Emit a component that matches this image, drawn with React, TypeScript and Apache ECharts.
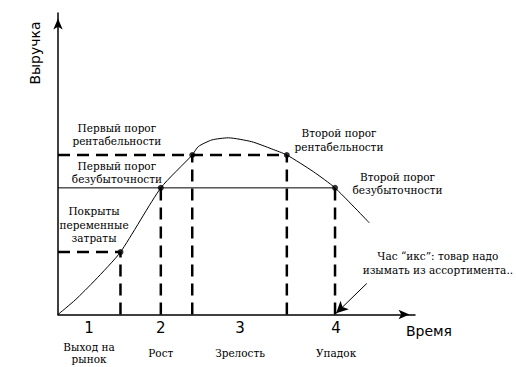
import React, { useEffect, useRef } from 'react';
import * as echarts from 'echarts';

// Revenue curve over time (axis units 0..100)
const curveX = [0, 4.8, 10.4, 17.5, 28.8, 37.6, 39.3, 43.1, 47.7, 54.3, 59.9, 64.1, 71.5, 77.6, 87.2];
const curveY = [0, 4.8, 11.4, 20.7, 42.0, 52.9, 55.7, 57.9, 58.6, 57.3, 54.9, 52.9, 47.4, 42.0, 30.4];

// Key points on the curve
const varCost = [17.5, 20.7];
const breakeven1 = [28.8, 42.0];
const profit1 = [37.6, 52.9];
const profit2 = [64.1, 52.9];
const breakeven2 = [77.6, 42.0];

// Stages along the time axis
const stageX = [8.7, 28.8, 51.0, 77.9];
const stageNums = ['1', '2', '3', '4'];
const stageNames = ['Выход на\nрынок', 'Рост', 'Зрелость', 'Упадок'];

// Annotations
const noteTexts = [
  'Первый порог\nрентабельности',
  'Первый порог\nбезубыточности',
  'Покрыты\nпеременные\nзатраты',
  'Второй порог\nрентабельности',
  'Второй порог\nбезубыточности',
  'Час “икс”: товар надо\nизымать из ассортимента..',
];
const noteX = [16.5, 16.5, 10.1, 78.7, 95.1, 106.4];
const noteY = [59.7, 47.1, 29.7, 57.9, 43.5, 17.1];
const arrowFrom = [86.5, 10.3];
const arrowTo = [77.9, 0.4];

const yName = 'Выручка';
const xName = 'Время';

const SERIF = '"DejaVu Serif", "Liberation Serif", serif';
const SANS = '"DejaVu Sans", sans-serif';

const dashed = { color: '#000', width: 2.5, type: [12, 7] as number[] };
const solid = { color: '#000', width: 1, type: 'solid' as const };

function seg(a: number[], b: number[], style: any) {
  return {
    type: 'line',
    data: [a, b],
    symbol: 'none',
    silent: true,
    lineStyle: style,
    z: 2,
  };
}

export default function App() {
  const ref = useRef<HTMLDivElement>(null);
  useEffect(() => {
    if (!ref.current) return;
    const chart = echarts.init(ref.current, null, { renderer: 'svg' });
    const axisCommon = {
      type: 'value',
      min: 0,
      max: 100,
      splitLine: { show: false },
      axisTick: { show: false },
      axisLabel: { show: false },
      axisLine: {
        show: true,
        symbol: ['none', 'arrow'],
        symbolSize: [7, 11],
        symbolOffset: [0, -5.5],
        lineStyle: { color: '#000', width: 1.5 },
      },
    };
    chart.setOption({
      animation: false,
      backgroundColor: '#fff',
      grid: { left: 58, right: 101, top: 13, bottom: 52.5, containLabel: false },
      xAxis: { ...axisCommon },
      yAxis: { ...axisCommon },
      series: [
        seg([0, profit1[1]], profit2, dashed),
        seg([0, breakeven1[1]], breakeven2, solid),
        seg([0, varCost[1]], varCost, dashed),
        seg([varCost[0], 0], varCost, dashed),
        seg([breakeven1[0], 0], breakeven1, dashed),
        seg([profit1[0], 0], profit1, dashed),
        seg([profit2[0], 0], profit2, dashed),
        seg([breakeven2[0], 0], breakeven2, dashed),
        {
          type: 'line',
          data: curveX.map((x, i) => [x, curveY[i]]),
          symbol: 'none',
          smooth: 0.2,
          lineStyle: { color: '#000', width: 1 },
          z: 3,
        },
        {
          type: 'scatter',
          data: [varCost, breakeven1, profit1, profit2, breakeven2],
          symbolSize: 6,
          itemStyle: { color: '#000' },
          z: 4,
          markLine: {
            silent: true,
            symbol: ['none', 'arrow'],
            symbolSize: [9, 12],
            label: { show: false },
            lineStyle: { color: '#000', width: 1, type: 'solid' },
            data: [[{ coord: arrowFrom }, { coord: arrowTo }]],
          },
        },
      ],
    });

    const graphic: any[] = [];
    stageX.forEach((x, i) => {
      const p = chart.convertToPixel({ gridIndex: 0 }, [x, 0]) as number[];
      graphic.push({
        type: 'text',
        x: p[0],
        y: p[1] + 13,
        style: {
          text: stageNums[i],
          fontFamily: SANS,
          fontSize: 15,
          fill: '#000',
          align: 'center',
          verticalAlign: 'middle',
        },
      });
      graphic.push({
        type: 'text',
        x: p[0],
        y: p[1] + 38.5,
        style: {
          text: stageNames[i],
          fontFamily: SERIF,
          fontSize: 10.5,
          lineHeight: 12,
          fill: '#000',
          align: 'center',
          verticalAlign: 'middle',
        },
      });
    });
    noteTexts.forEach((t, i) => {
      const p = chart.convertToPixel({ gridIndex: 0 }, [noteX[i], noteY[i]]) as number[];
      graphic.push({
        type: 'text',
        x: p[0],
        y: p[1],
        style: {
          text: t,
          fontFamily: SERIF,
          fontSize: 10.5,
          lineHeight: 13.5,
          fill: '#000',
          align: 'center',
          verticalAlign: 'middle',
        },
      });
    });
    graphic.push({
      type: 'text',
      x: 35,
      y: 53,
      rotation: Math.PI / 2,
      style: {
        text: yName,
        fontFamily: SANS,
        fontSize: 14,
        fill: '#000',
        align: 'center',
        verticalAlign: 'middle',
      },
    });
    graphic.push({
      type: 'text',
      x: 429,
      y: 331,
      style: {
        text: xName,
        fontFamily: SANS,
        fontSize: 14,
        fill: '#000',
        align: 'center',
        verticalAlign: 'middle',
      },
    });
    chart.setOption({ graphic });
    return () => chart.dispose();
  }, []);
  return (
    <div
      ref={ref}
      style={{ position: 'fixed', left: 0, top: 0, width: 516, height: 367, background: '#fff' }}
    />
  );
}
